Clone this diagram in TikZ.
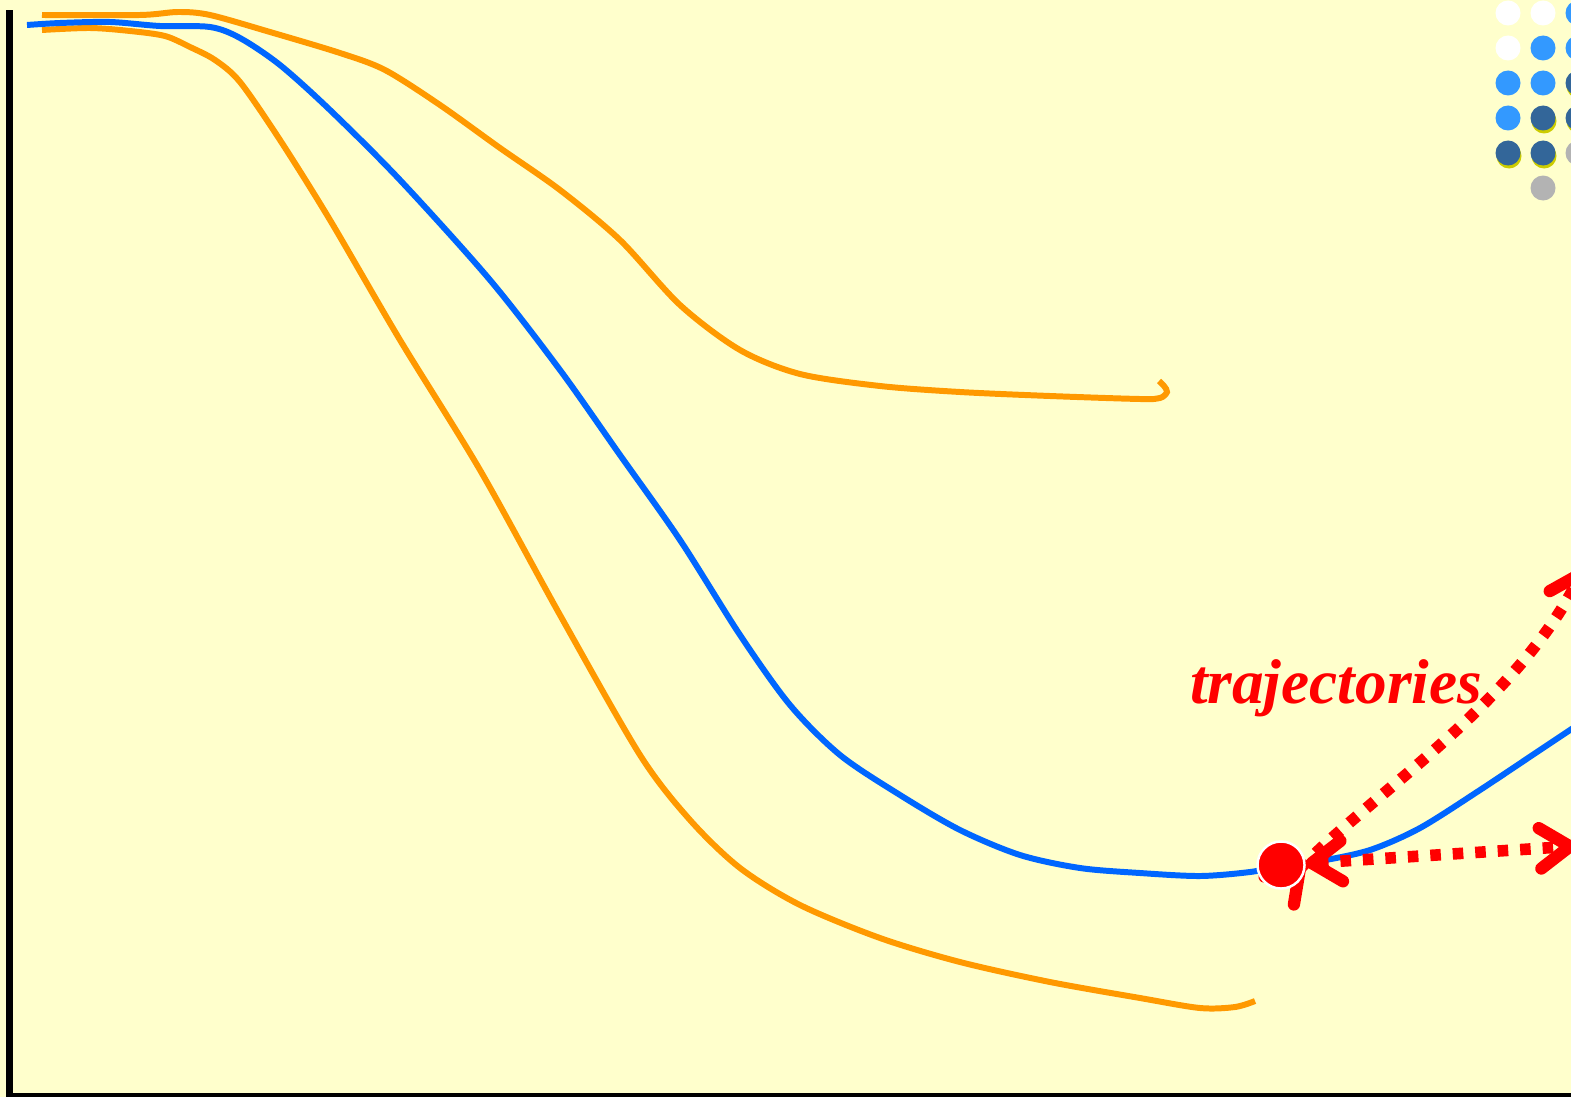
\documentclass[tikz,border=0pt]{standalone}
\usepackage{fontspec}
\setmainfont{Liberation Serif}
\usetikzlibrary{arrows.meta}
\definecolor{bgyellow}{HTML}{FFFFCC}
\definecolor{curveorange}{HTML}{FF9900}
\definecolor{curveblue}{HTML}{0066FF}
\definecolor{lightdot}{HTML}{3399FF}
\definecolor{darkdot}{HTML}{336699}
\definecolor{shadowdot}{HTML}{CCCC00}
\definecolor{greydot}{HTML}{B3B3B3}

\begin{document}
\begin{tikzpicture}[x=0.01cm, y=-0.01cm,
    orangeline/.style={draw=curveorange, line width=1.7pt},
    blueline/.style={draw=curveblue, line width=1.7pt},
    trajarrow/.style={draw=red, line width=3.3pt, dash pattern=on 3pt off 3.4pt,
      >={Straight Barb[length=8.5pt, width=11.5pt, round, line width=3.5pt]}},
    gridcircle/.style={fill=#1}]
    \fill[bgyellow] (0,0) rectangle (1571,1097);
    \useasboundingbox (0,0) rectangle (1571,1097);
    \clip (0,0) rectangle (1571,1097);

    \fill[black] (6,10) rectangle (13,1097);
    \fill[black] (6,1093) rectangle (1571,1097);

    \draw[orangeline] plot[smooth, tension=0.5] coordinates {(42,15) (140,15) (178,12) (210,15)
      (270,32) (340,53) (385,70) (440,105) (500,148) (560,190) (620,240) (680,305) (740,350)
      (800,374) (880,386) (960,392) (1050,396) (1140,399) (1160,398) (1167,392) (1164,386) (1159,381)};
    \draw[orangeline] plot[smooth, tension=0.5] coordinates {(42,30) (90,28) (130,31) (165,36)
      (190,47) (215,60) (240,82) (280,140) (330,220) (400,340) (480,470) (560,615) (640,755)
      (690,820) (740,868) (800,905) (880,938) (960,962) (1050,982) (1140,998) (1200,1008)
      (1235,1007) (1255,1001)};
    \draw[blueline] plot[smooth, tension=0.5] coordinates {(27,25) (60,23) (110,22) (160,26)
      (210,27) (240,38) (280,65) (330,110) (400,180) (490,280) (560,370) (620,455) (680,540)
      (740,635) (790,705) (840,755) (900,795) (960,830) (1020,855) (1080,868) (1140,873)
      (1200,876) (1250,872) (1281,866) (1320,861) (1370,850) (1420,828) (1480,790) (1540,750)
      (1600,710)};

    \foreach \col/\row/\shade in {0/0/white, 0/1/white, 0/2/lightdot, 0/3/lightdot,
        1/0/white, 1/1/lightdot, 1/2/lightdot, 1/5/greydot,
        2/0/lightdot, 2/1/lightdot, 2/4/greydot}
      \fill[gridcircle=\shade] (1508+35*\col, 13+35*\row) circle (12.5);
    \foreach \col/\row in {0/4, 1/3, 1/4, 2/2, 2/3} {
      \fill[gridcircle=shadowdot] (1509+35*\col, 16+35*\row) circle (12.5);
      \fill[gridcircle=darkdot] (1508+35*\col, 13+35*\row) circle (12.5);
    }

    \coordinate (diagend) at (1584,568);
    \coordinate (rightend) at (1576,846);
    \coordinate (diagstart) at (1275,895);
    \draw[trajarrow, {Straight Barb[reversed, length=8.5pt, width=11.5pt, round, line width=3.5pt]}->]
      (diagstart) .. controls (1370,795) and (1515,705) .. (diagend);

    \node[circle, fill=red, draw=white, line width=0.7pt, inner sep=0pt, minimum size=0.47cm]
      (dot) at (1281,865) {};
    \draw[trajarrow, <->] (dot) -- (rightend);

    \node[red, anchor=base, font=\fontsize{18}{20}\selectfont\bfseries\itshape]
      (label) at (1336,703) {trajectories};
\end{tikzpicture}
\end{document}
